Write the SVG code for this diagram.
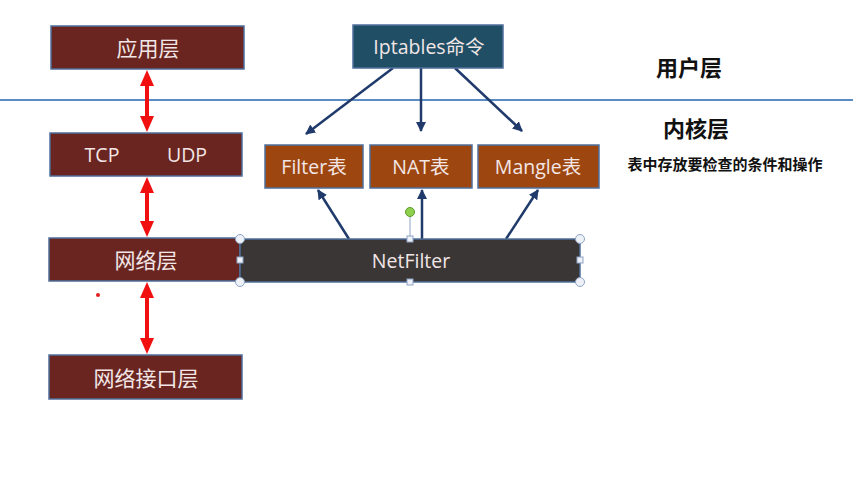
<svg xmlns="http://www.w3.org/2000/svg" width="853" height="498" viewBox="0 0 853 498">
<style>
.layer{fill:#6a2521;stroke:#4f6f9a;stroke-width:1.5}
.tbl{fill:#9e4610;stroke:#4f6f9a;stroke-width:1.5}
.cmd{fill:#1f4e65;stroke:#4f6f9a;stroke-width:1.5}
.nf{fill:#3b3636;stroke:#4f6f9a;stroke-width:1.5}
.lt{font-family:"Noto Sans CJK SC","Open Sans",sans-serif;font-size:21px;fill:#f2e6e6;text-anchor:middle;dominant-baseline:central}
.en{font-family:"Open Sans","Noto Sans CJK SC",sans-serif;font-size:19.5px;fill:#f2e6e6;text-anchor:middle;dominant-baseline:central}
.lbl{font-family:"Noto Sans CJK SC",sans-serif;font-weight:bold;fill:#111;text-anchor:middle;dominant-baseline:central}
.red{stroke:#f01010;stroke-width:4;fill:none}
.blue{stroke:#1f3a6b;stroke-width:2.5;fill:none;marker-end:url(#bh)}
.hc{fill:#eef2f8;stroke:#8ea4c4;stroke-width:1}
</style>
<defs>
<marker id="bh" viewBox="0 0 10 10" refX="9" refY="5" markerWidth="4" markerHeight="4" orient="auto" markerUnits="strokeWidth">
<path d="M0,0 L10,5 L0,10 z" fill="#1f3a6b"/>
</marker>
</defs>
<rect width="853" height="498" fill="#ffffff"/>
<line x1="0" y1="100" x2="853" y2="100" stroke="#5b8cc4" stroke-width="2"/>
<g id="connectors">
<g id="red-arrows" fill="#f01010">
<line class="red" x1="147" y1="82" x2="147" y2="120"/>
<path d="M147,70 L154,86 L140,86 z"/>
<path d="M147,132 L154,116 L140,116 z"/>
<line class="red" x1="147" y1="189" x2="147" y2="225"/>
<path d="M147,177 L154,193 L140,193 z"/>
<path d="M147,237 L154,221 L140,221 z"/>
<line class="red" x1="147" y1="294" x2="147" y2="342"/>
<path d="M147,282 L154,298 L140,298 z"/>
<path d="M147,354 L154,338 L140,338 z"/>
</g>
<line class="blue" x1="393" y1="68" x2="306" y2="134"/>
<line class="blue" x1="421" y1="68" x2="421" y2="131"/>
<line class="blue" x1="455" y1="68" x2="522" y2="131"/>
<line class="blue" x1="349" y1="239" x2="318" y2="190"/>
<line class="blue" x1="422" y1="239" x2="422" y2="190"/>
<line class="blue" x1="506" y1="239" x2="538" y2="190"/>
</g>
<g id="app-layer"><rect class="layer" x="51" y="26" width="193" height="43"/><text class="lt" x="148" y="47">应用层</text></g>
<g id="tcp-udp"><rect class="layer" x="50" y="133" width="192" height="43"/><text class="en" x="102" y="154">TCP</text><text class="en" x="187" y="154">UDP</text></g>
<g id="net-layer"><rect class="layer" x="49" y="238" width="191" height="43"/><text class="lt" x="146" y="259">网络层</text></g>
<g id="link-layer"><rect class="layer" x="49" y="355" width="193" height="44"/><text class="lt" x="146" y="377">网络接口层</text></g>
<g id="iptables"><rect class="cmd" x="353" y="25" width="150" height="43"/><text class="en" x="429" y="46">Iptables命令</text></g>
<g id="filter"><rect class="tbl" x="265" y="145" width="98" height="43"/><text class="en" x="314" y="166">Filter表</text></g>
<g id="nat"><rect class="tbl" x="370" y="145" width="102" height="43"/><text class="en" x="421" y="166">NAT表</text></g>
<g id="mangle"><rect class="tbl" x="478" y="145" width="121" height="43"/><text class="en" x="538" y="166">Mangle表</text></g>
<g id="netfilter">
<rect class="nf" x="240" y="239" width="340" height="43"/>
<text class="en" x="411" y="260">NetFilter</text>
<line x1="410" y1="216" x2="410" y2="239" stroke="#8ea4c4" stroke-width="1"/>
<circle cx="410" cy="212" r="4.5" fill="#8fd14f" stroke="#5a9a2a" stroke-width="1"/>
<circle class="hc" cx="240" cy="239" r="4.5"/>
<circle class="hc" cx="580" cy="239" r="4.5"/>
<circle class="hc" cx="240" cy="282" r="4.5"/>
<circle class="hc" cx="580" cy="282" r="4.5"/>
<rect class="hc" x="407" y="236" width="6" height="6"/>
<rect class="hc" x="407" y="279" width="6" height="6"/>
<rect class="hc" x="237" y="257" width="6" height="6"/>
<rect class="hc" x="577" y="257" width="6" height="6"/>
</g>
<circle cx="98" cy="295" r="2" fill="#e02020"/>
<g id="labels">
<text class="lbl" x="689" y="66" font-size="22">用户层</text>
<text class="lbl" x="696" y="127" font-size="22">内核层</text>
<text class="lbl" x="725" y="163" font-size="15">表中存放要检查的条件和操作</text>
</g>
</svg>
